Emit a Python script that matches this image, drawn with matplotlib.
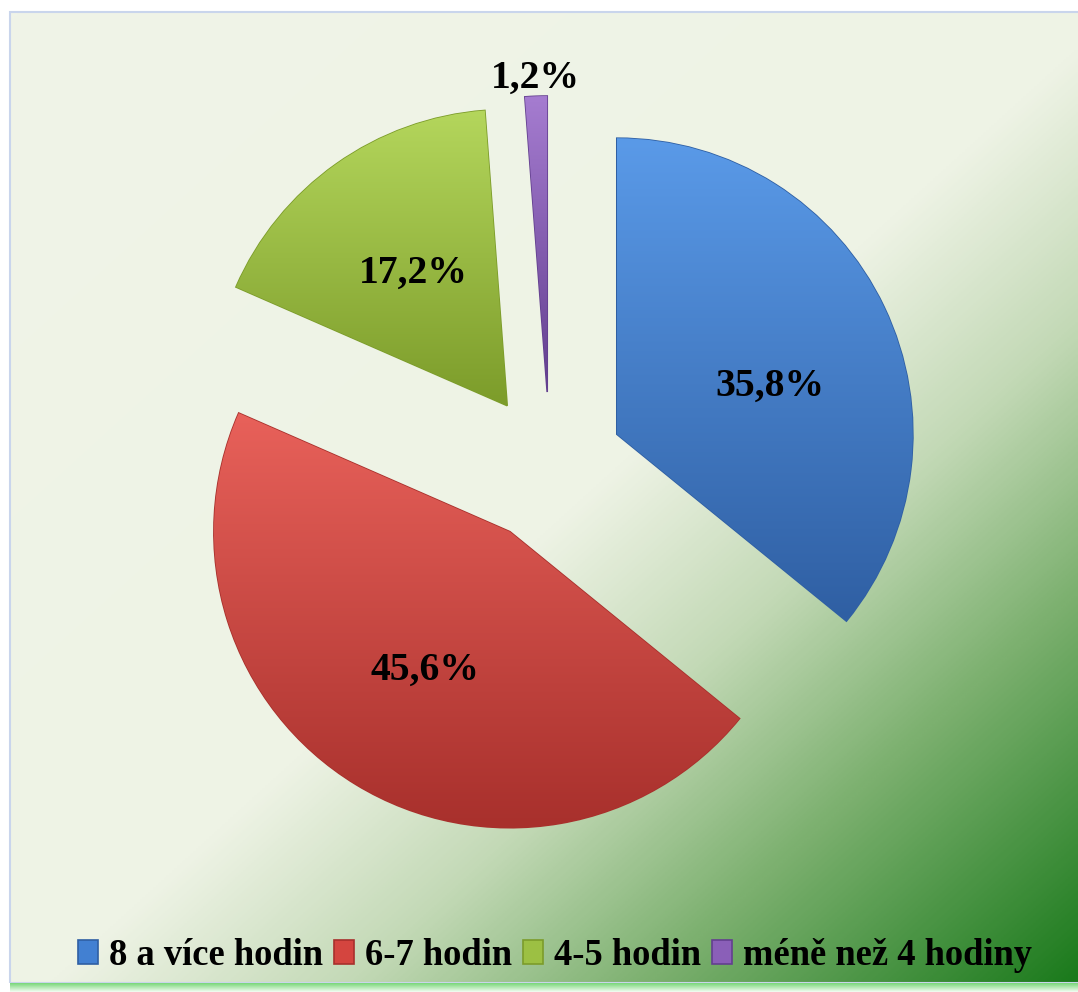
import numpy as np
import matplotlib
matplotlib.use("Agg")
import matplotlib.pyplot as plt
from matplotlib.colors import LinearSegmentedColormap
from matplotlib.patches import Rectangle

# data
kategorie = ["8 a více hodin", "6-7 hodin", "4-5 hodin", "méně než 4 hodiny"]
hodnoty = [35.8, 45.6, 17.2, 1.2]
popisky = ["35,8%", "45,6%", "17,2%", "1,2%"]

barvy = ["#4280d2", "#d4453f", "#9cc043", "#8a5fb8"]
svetle = ["#5a9ae8", "#e8615a", "#b4d65c", "#a57cd0"]
tmave = ["#2f5fa3", "#a8302c", "#7c9c2a", "#633f8f"]

W, H = 1078, 992
R = 296

fig = plt.figure(figsize=(W / 100, H / 100), dpi=100, facecolor="white")
ax = fig.add_axes([0, 0, 1, 1])

# pozadi - prechod do zelene
nx, ny = 400, 400
gx, gy = np.meshgrid(np.linspace(0, 1, nx), np.linspace(0, 1, ny))
t = (gx + gy) / 2
bg_cmap = LinearSegmentedColormap.from_list(
    "bg", [(0, "#f0f4e8"), (0.52, "#eef3e5"), (0.66, "#c3d9b6"),
           (0.8, "#7cb06f"), (1.0, "#1b7a1c")])
ax.imshow(t, cmap=bg_cmap, extent=(10, W, 9, 980), origin="upper",
          aspect="auto", zorder=0, interpolation="bilinear")
ax.add_patch(Rectangle((10, 9), W - 5, 971, fill=False,
                       edgecolor="#c9d5ec", lw=1.5, zorder=1))
pruh = np.linspace(0, 1, 10).reshape(-1, 1)
ax.imshow(pruh, cmap=LinearSegmentedColormap.from_list("p", ["#7ed87e", "#eefbee"]),
          extent=(10, W, 0, 9), origin="upper", aspect="auto", zorder=1)

explode = [0.25 * R, 0.26 * R, 0.25 * R, 0.25 * R]
wedges, texts, autotexts = ax.pie(
    hodnoty, explode=explode, colors=barvy, startangle=90, counterclock=False,
    center=(550, H - 466), radius=R, autopct=lambda p: "", pctdistance=0.55,
    wedgeprops=dict(linewidth=1.2), frame=True)
ax.set_xlim(0, W)
ax.set_ylim(0, H)
ax.set_aspect("equal")
ax.axis("off")

for w, c1, c2 in zip(wedges, svetle, tmave):
    w.set_edgecolor(c2)
    w.set_zorder(2)
    x0, y0, x1, y1 = w.get_path().get_extents(w.get_patch_transform()).extents
    grad = np.linspace(0, 1, 200).reshape(-1, 1)
    cm = LinearSegmentedColormap.from_list("w", [c1, c2])
    im = ax.imshow(grad, cmap=cm, extent=(x0, x1, y0, y1), origin="upper",
                   aspect="auto", zorder=3, interpolation="bilinear")
    im.set_clip_path(w)

for i, (at, txt) in enumerate(zip(autotexts, popisky)):
    at.set_text(txt)
    at.set_fontsize(28.5)
    at.set_fontfamily("Liberation Serif")
    at.set_fontweight("bold")
    at.set_zorder(5)
    if i == 0:
        x, y = at.get_position()
        at.set_position((x + 6, y - 22))
    if i == 3:
        w = wedges[i]
        th = np.deg2rad((w.theta1 + w.theta2) / 2)
        cx, cy = w.center
        at.set_position((cx + 1.06 * R * np.cos(th), cy + 1.06 * R * np.sin(th)))

fig.legend(wedges, kategorie, loc="center", bbox_to_anchor=(0.515, 0.037),
           ncol=4, frameon=False, handlelength=0.55, handleheight=0.6,
           handletextpad=0.3, columnspacing=0.3, borderaxespad=0,
           prop=dict(family="Liberation Serif", weight="bold", size=26.3))

fig.savefig("out.png", dpi=100, facecolor="white")
